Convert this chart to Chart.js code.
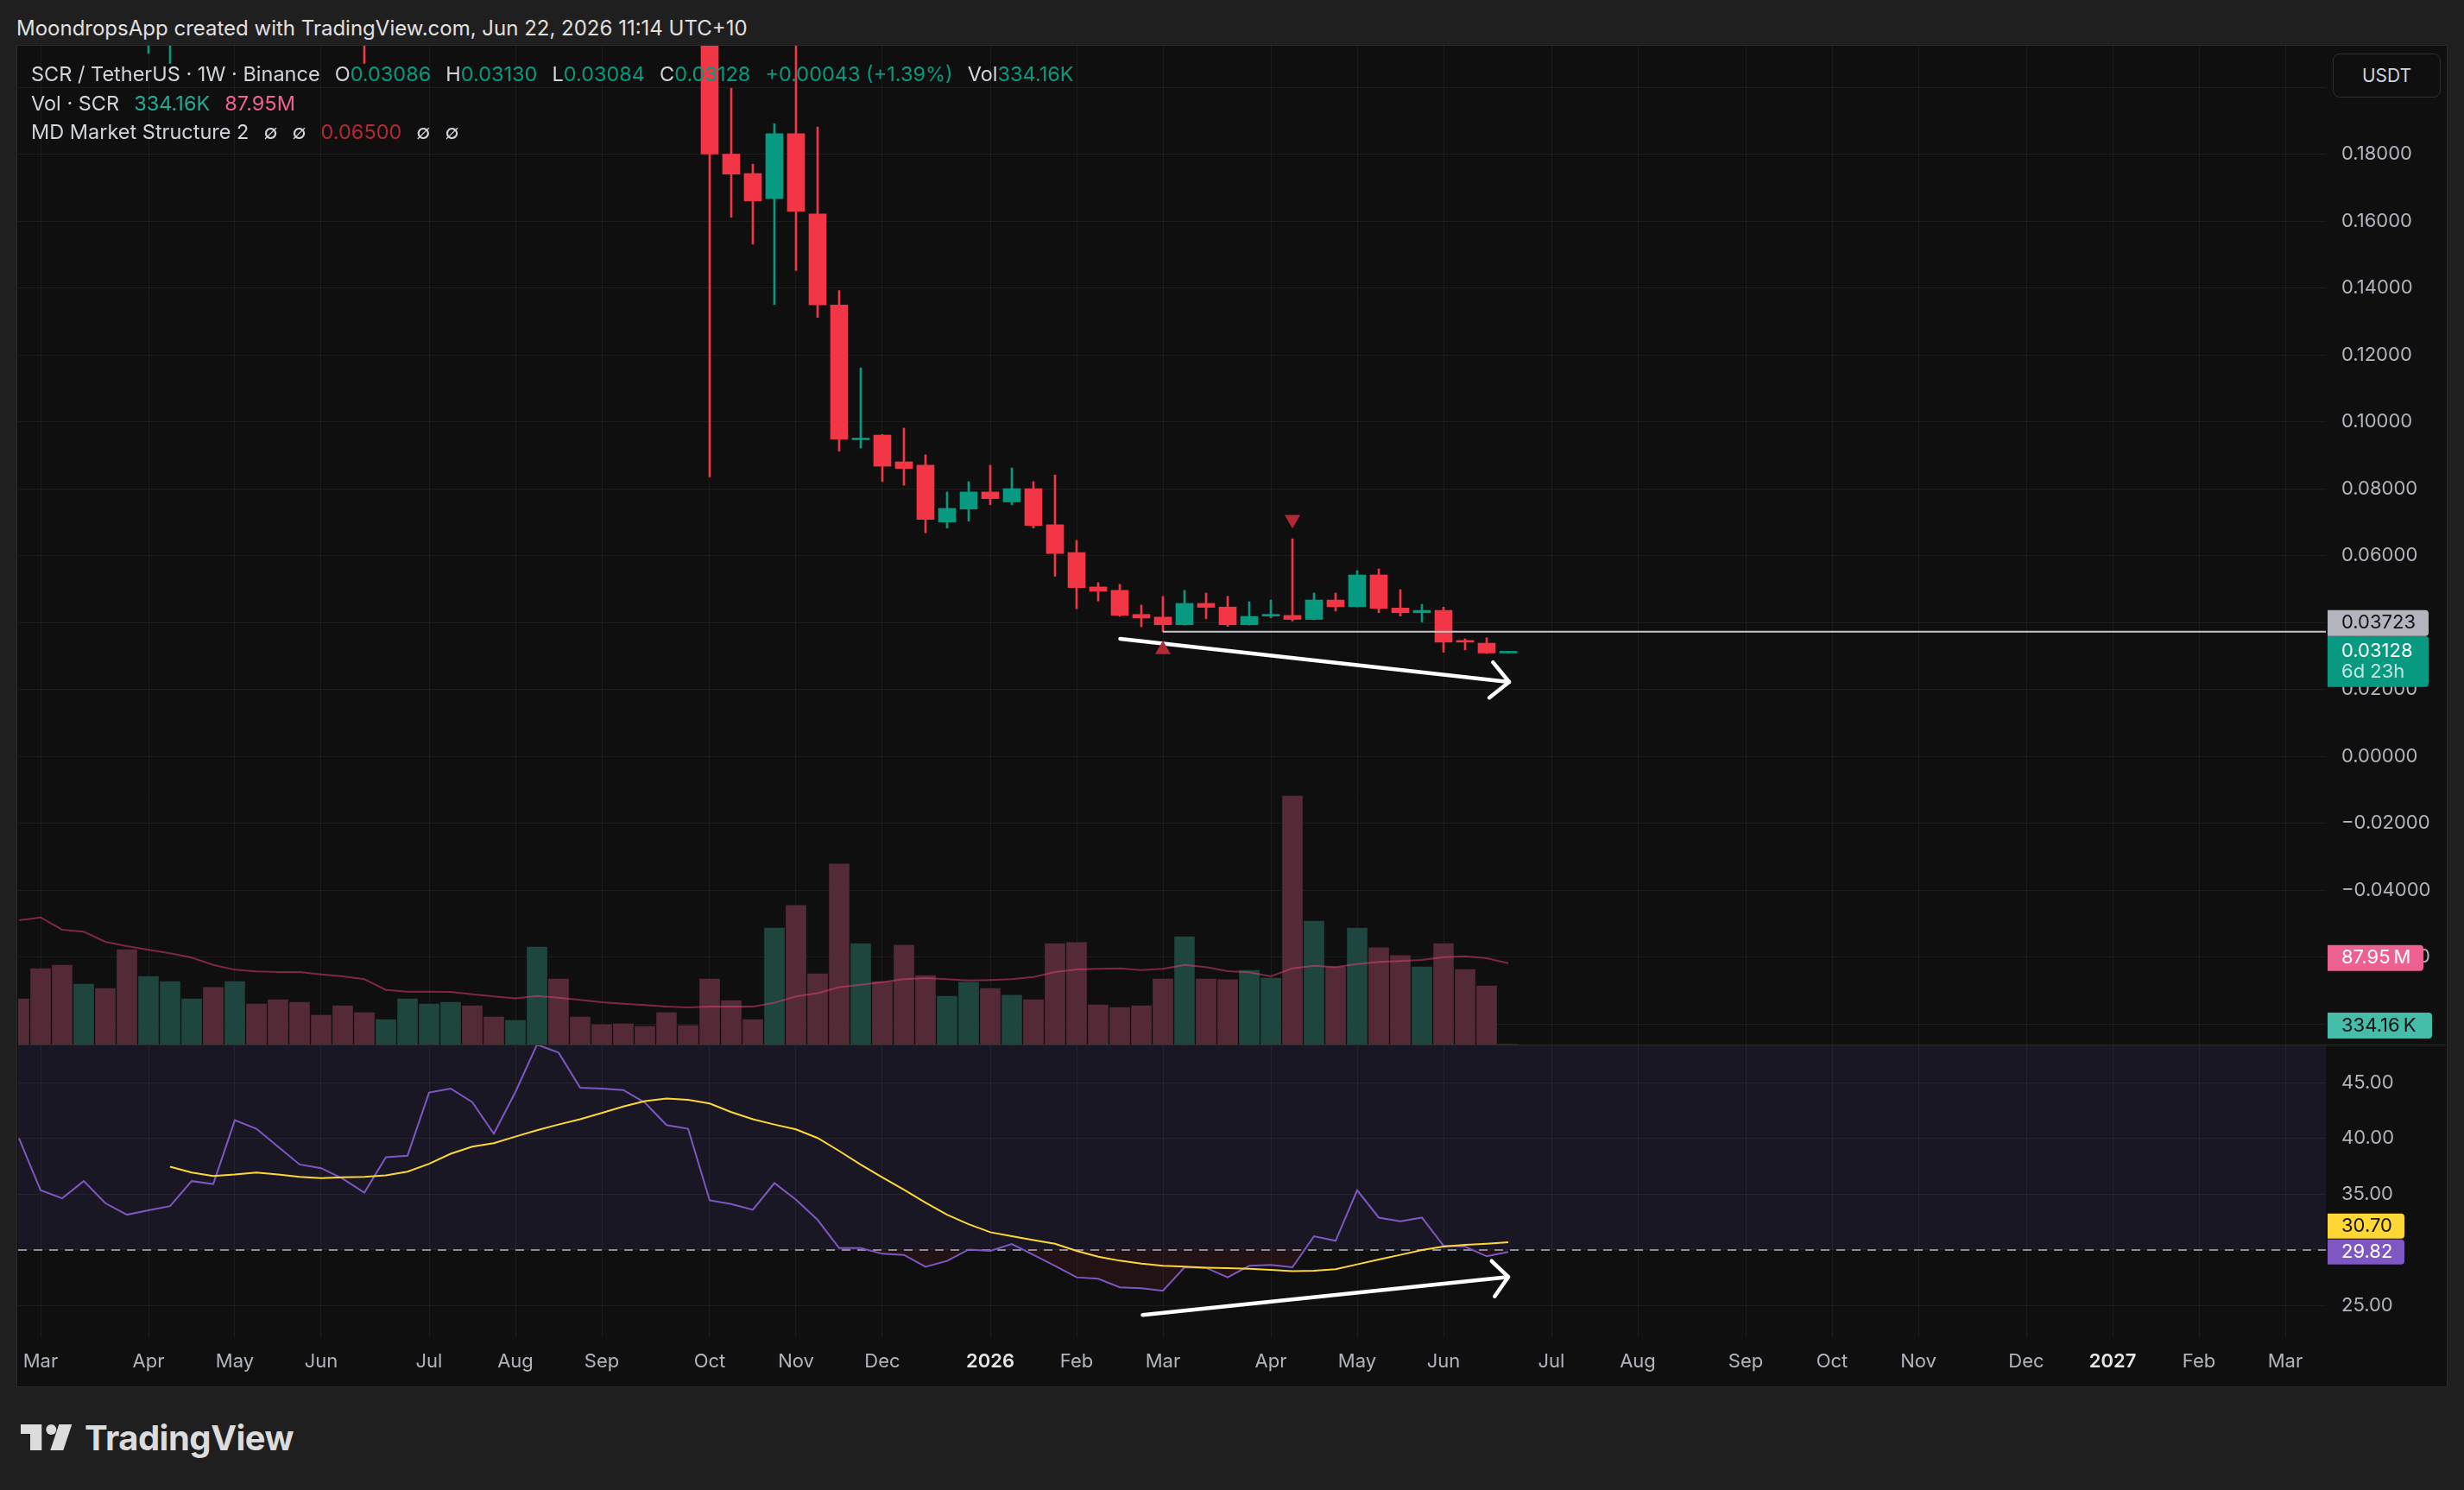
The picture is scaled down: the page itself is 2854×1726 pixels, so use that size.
<!DOCTYPE html>
<html lang="en">
<head>
<meta charset="UTF-8" />
<title>SCR / TetherUS 1W</title>
<script src="https://cdn.jsdelivr.net/npm/chart.js"></script>
<style>
  body { margin: 0; width: 2854px; height: 1726px; background: #1f1f1f; overflow: hidden;
         font-family: Inter, "Noto Sans", sans-serif; position: relative; }
  #header { position: absolute; left: 19px; top: 18px; font-size: 24px; line-height: 30px; color: #e0e0e0; }
  #frame { position: absolute; left: 19px; top: 52px; width: 2814px; height: 1553px; background: #0f0f0f;
           border: 1px solid #2b2b2b; }
  #mainPane { position: absolute; left: 21px; top: 53px; width: 2812px; height: 1157px; }
  #sep { position: absolute; left: 21px; top: 1210px; width: 2812px; height: 1px; background: #2b2b2b; }
  #rsiPane { position: absolute; left: 21px; top: 1211px; width: 2812px; height: 394px; }
  .row { position: absolute; left: 36px; font-size: 23.5px; line-height: 30px; color: #d1d4dc; white-space: nowrap; }
  .row span.g { margin-left: 17px; }
  .up { color: #089981; }
  #usdt { position: absolute; left: 2702px; top: 62px; width: 123px; height: 49px; border: 1px solid #2e2e2e;
          border-radius: 8px; background: #0f0f0f; color: #d1d4dc; font-size: 21px; line-height: 49px; text-align: center; }
  #logo { position: absolute; left: 24px; top: 1650px; height: 40px; color: #dcdcdc; }
  #logo span { position: absolute; left: 74px; top: -9px; font-size: 40px; font-weight: 700; letter-spacing: -0.5px; }
</style>
</head>
<body>
  <div id="header">MoondropsApp created with TradingView.com, Jun 22, 2026 11:14 UTC+10</div>
  <div id="frame"></div>
  <div id="mainPane"><canvas id="priceChart"></canvas></div>
  <div id="sep"></div>
  <div id="rsiPane"><canvas id="rsiChart"></canvas></div>

  <div class="row" style="top:71px">SCR / TetherUS · 1W · Binance<span class="g">O<span class="up">0.03086</span></span><span class="g">H<span class="up">0.03130</span></span><span class="g">L<span class="up">0.03084</span></span><span class="g">C<span class="up">0.03128</span></span><span class="g up">+0.00043 (+1.39%)</span><span class="g">Vol<span class="up">334.16K</span></span></div>
  <div class="row" style="top:105px">Vol · SCR<span class="g" style="color:#22ab94">334.16K</span><span class="g" style="color:#f06292">87.95M</span></div>
  <div class="row" style="top:138px">MD Market Structure 2<span class="g">∅</span><span class="g">∅</span><span class="g" style="color:#b22833">0.06500</span><span class="g">∅</span><span class="g">∅</span></div>
  <div id="usdt">USDT</div>

  <div id="logo">
    <svg width="60" height="30" viewBox="0 0 60 30">
      <path d="M0 0H24.3V30H11V11H0Z" fill="#dcdcdc" />
      <circle cx="35.3" cy="6" r="6" fill="#dcdcdc" />
      <path d="M44.3 0H59.3L49.3 30H34.3Z" fill="#dcdcdc" />
    </svg>
    <span>TradingView</span>
  </div>

<script>
  // weekly bars, week 0 = week of 2025-03-03
  const weekNo = [-1, 0, 1, 2, 3, 4, 5, 6, 7, 8,
    9, 10, 11, 12, 13, 14, 15, 16, 17, 18,
    19, 20, 21, 22, 23, 24, 25, 26, 27, 28,
    29, 30, 31, 32, 33, 34, 35, 36, 37, 38,
    39, 40, 41, 42, 43, 44, 45, 46, 47, 48,
    49, 50, 51, 52, 53, 54, 55, 56, 57, 58,
    59, 60, 61, 62, 63, 64, 65, 66, 67, 68];

  const openP = [0.356, 0.330, 0.290, 0.282, 0.300, 0.275, 0.262, 0.266, 0.270, 0.292,
    0.288, 0.345, 0.335, 0.318, 0.300, 0.296, 0.287, 0.274, 0.300, 0.301,
    0.355, 0.360, 0.345, 0.316, 0.352, 0.400, 0.392, 0.355, 0.354, 0.351,
    0.339, 0.318, 0.314, 0.1800, 0.1742, 0.1667, 0.1861, 0.1621, 0.1349, 0.0946,
    0.0960, 0.0880, 0.0870, 0.0700, 0.0739, 0.0790, 0.0760, 0.0800, 0.0692, 0.0609,
    0.0506, 0.0496, 0.0424, 0.0416, 0.0393, 0.0457, 0.0446, 0.0393, 0.0419, 0.0421,
    0.0409, 0.0467, 0.0447, 0.0542, 0.0443, 0.0429, 0.0436, 0.0345, 0.0338, 0.03086];
  const highP = [0.372, 0.345, 0.318, 0.322, 0.309, 0.286, 0.281, 0.284, 0.305, 0.311,
    0.372, 0.368, 0.352, 0.329, 0.316, 0.305, 0.298, 0.309, 0.318, 0.372,
    0.381, 0.376, 0.352, 0.361, 0.432, 0.424, 0.398, 0.366, 0.362, 0.358,
    0.344, 0.331, 0.322, 0.1997, 0.1770, 0.1891, 0.2350, 0.1881, 0.1392, 0.1161,
    0.0962, 0.0981, 0.0901, 0.0790, 0.0821, 0.0870, 0.0862, 0.0821, 0.0841, 0.0645,
    0.0519, 0.0514, 0.0452, 0.0478, 0.0496, 0.0488, 0.0478, 0.0462, 0.0467, 0.0650,
    0.0488, 0.0488, 0.0555, 0.0560, 0.0498, 0.0454, 0.0446, 0.0351, 0.0354, 0.03130];
  const lowP = [0.318, 0.281, 0.262, 0.270, 0.258, 0.238, 0.2101, 0.2071, 0.255, 0.270,
    0.280, 0.318, 0.302, 0.286, 0.281, 0.266, 0.2071, 0.262, 0.284, 0.296,
    0.331, 0.331, 0.301, 0.306, 0.341, 0.371, 0.343, 0.341, 0.338, 0.327,
    0.309, 0.301, 0.0835, 0.1611, 0.1531, 0.1350, 0.1452, 0.1312, 0.0912, 0.0921,
    0.0821, 0.0810, 0.0668, 0.0682, 0.0703, 0.0752, 0.0752, 0.0682, 0.0538, 0.0441,
    0.0464, 0.0418, 0.0387, 0.0372, 0.0392, 0.0411, 0.0388, 0.0392, 0.0414, 0.0404,
    0.0408, 0.0434, 0.0446, 0.0429, 0.0419, 0.0401, 0.0311, 0.0318, 0.0307, 0.03084];
  const closeP = [0.330, 0.290, 0.282, 0.300, 0.275, 0.262, 0.266, 0.270, 0.292, 0.288,
    0.345, 0.335, 0.318, 0.300, 0.296, 0.287, 0.274, 0.300, 0.301, 0.355,
    0.360, 0.345, 0.316, 0.352, 0.400, 0.392, 0.355, 0.354, 0.351, 0.339,
    0.318, 0.314, 0.1800, 0.1740, 0.1660, 0.1861, 0.1629, 0.1349, 0.0948, 0.0951,
    0.0867, 0.0860, 0.0708, 0.0741, 0.0790, 0.0770, 0.0800, 0.0690, 0.0606, 0.0504,
    0.0493, 0.0421, 0.0413, 0.0393, 0.0457, 0.0445, 0.0393, 0.0418, 0.0423, 0.0409,
    0.0467, 0.0447, 0.0542, 0.0442, 0.0429, 0.0436, 0.0341, 0.0341, 0.03086, 0.03128];

  // volume in millions SCR
  const volumeM = [49.4, 82.1, 85.8, 65.3, 60.6, 102.6, 73.7, 68.1, 49.4, 61.6,
    68.1, 43.8, 48.5, 45.7, 31.7, 42.0, 34.5, 27.0, 49.4, 43.8,
    45.7, 42.0, 29.8, 26.1, 105.4, 70.9, 29.8, 21.5, 22.4, 19.6,
    34.5, 20.5, 70.9, 47.6, 27.0, 125.9, 150.2, 76.5, 195.0, 109.1,
    68.1, 107.3, 74.6, 52.2, 67.2, 60.6, 53.2, 48.5, 109.1, 110.1,
    42.9, 40.1, 42.0, 70.9, 116.6, 70.9, 70.0, 80.2, 71.8, 268.6,
    133.4, 83.9, 125.9, 104.5, 96.1, 83.9, 109.1, 81.1, 63.4, 0.334];
  const volumeMA = [134.3, 137.4, 124.1, 121.9, 111.0, 106.3, 102.3, 98.6, 93.9, 86.1,
    80.8, 79.0, 78.3, 78.3, 75.8, 73.7, 70.6, 59.0, 57.2, 57.2,
    56.9, 54.4, 51.9, 50.0, 52.5, 50.6, 48.2, 45.7, 44.1, 42.6,
    41.0, 40.1, 41.0, 41.0, 41.0, 45.1, 52.0, 55.5, 62.0, 64.5,
    67.4, 70.6, 71.8, 70.6, 69.3, 69.7, 70.6, 73.0, 78.3, 81.1,
    81.8, 82.4, 80.5, 81.8, 86.1, 83.7, 79.3, 78.0, 73.7, 82.4,
    85.2, 83.7, 87.0, 89.2, 90.2, 91.4, 94.5, 95.4, 93.3, 87.95];

  const rsi = [40.0, 35.35, 34.63, 36.17, 34.19, 33.16, 33.55, 33.93, 36.17, 35.91,
    41.63, 40.86, 39.26, 37.66, 37.33, 36.38, 35.14, 38.31, 38.44, 44.10,
    44.46, 43.25, 40.42, 44.15, 48.4, 47.68, 44.54, 44.46, 44.33, 43.2,
    41.19, 40.86, 34.45, 34.11, 33.6, 35.99, 34.5, 32.7, 30.17, 30.17,
    29.66, 29.56, 28.5, 29.02, 30.04, 29.92, 30.53, 29.56, 28.58, 27.55,
    27.42, 26.65, 26.57, 26.34, 28.45, 28.4, 27.55, 28.58, 28.66, 28.45,
    31.23, 30.82, 35.35, 32.9, 32.57, 32.9, 30.38, 30.3, 29.43, 29.82];
  const rsiMA = [null, null, null, null, null, null, null, 37.46, 36.94, 36.63,
    36.76, 36.94, 36.76, 36.56, 36.43, 36.51, 36.56, 36.69, 37.02, 37.72,
    38.62, 39.26, 39.57, 40.16, 40.73, 41.24, 41.71, 42.27, 42.86, 43.33,
    43.56, 43.46, 43.12, 42.35, 41.71, 41.24, 40.8, 40.03, 38.87, 37.64,
    36.51, 35.4, 34.24, 33.16, 32.31, 31.59, 31.23, 30.89, 30.56, 29.92,
    29.4, 29.04, 28.78, 28.58, 28.5, 28.42, 28.37, 28.32, 28.22, 28.11,
    28.14, 28.27, 28.71, 29.14, 29.56, 30.0, 30.3, 30.46, 30.56, 30.70];

  // market structure marks and drawn arrows (week, value)
  const levelLine = { fromWeek: 52, price: 0.03723 };
  const buySignal = [{ x: 52, y: 0.0319 }];
  const sellSignal = [{ x: 58, y: 0.0708 }];
  const priceArrow = [{ x: 50.02, y: 0.0351 }, { x: 68.04, y: 0.0222 }];
  const priceArrowHead = [{ x: 67.29, y: 0.0281 }, { x: 68.04, y: 0.0222 }, { x: 67.12, y: 0.0175 }];
  const rsiArrow = [{ x: 51.06, y: 24.17 }, { x: 68.0, y: 27.58 }];
  const rsiArrowHead = [{ x: 67.23, y: 29.01 }, { x: 68.0, y: 27.58 }, { x: 67.37, y: 25.84 }];

  // axis ticks
  const monthTicks = [0, 5, 9, 13, 18, 22, 26, 31, 35, 39, 44, 48, 52, 57, 61, 65, 70, 74, 79, 83, 87, 92, 96, 100, 104];
  const monthLabels = ['Mar', 'Apr', 'May', 'Jun', 'Jul', 'Aug', 'Sep', 'Oct', 'Nov', 'Dec', '2026', 'Feb',
    'Mar', 'Apr', 'May', 'Jun', 'Jul', 'Aug', 'Sep', 'Oct', 'Nov', 'Dec', '2027', 'Feb', 'Mar'];
  const priceTicks = [-0.08, -0.06, -0.04, -0.02, 0, 0.02, 0.04, 0.06, 0.08, 0.10, 0.12, 0.14, 0.16, 0.18, 0.20];
  const rsiTicks = [25, 30, 35, 40, 45];

  // view window
  const X_MIN = -1.04, X_MAX = 105.88;
  const PRICE_MIN = -0.08619, PRICE_MAX = 0.21239;
  const VOL_MAX = 1079;
  const RSI_MIN = 22.185, RSI_MAX = 48.326;

  const UP = '#089981', DOWN = '#f23645';
  const GRID = 'rgba(242,242,242,0.06)';
  const AXIS_TXT = '#b2b5be';
  const AXIS_W = 139;
  const LABEL_SIZE = 22;
  const LABEL_FONT = LABEL_SIZE + 'px Inter, "Noto Sans", sans-serif';

  Chart.defaults.font.family = 'Inter, "Noto Sans", sans-serif';
  Chart.defaults.font.size = 22;

  const isUp = weekNo.map((w, i) => closeP[i] >= openP[i]);
  const candleColors = isUp.map(u => u ? UP : DOWN);
  const volColors = isUp.map(u => u ? '#1f463e' : '#542a37');

  const bodyData = weekNo.map((w, i) => ({ x: w, y: [openP[i], closeP[i]] }));
  const wickData = weekNo.map((w, i) => ({ x: w, y: [lowP[i], highP[i]] }));
  const volData = weekNo.map((w, i) => ({ x: w, y: volumeM[i] }));
  const volMAData = weekNo.map((w, i) => ({ x: w, y: volumeMA[i] }));
  const rsiData = weekNo.map((w, i) => ({ x: w, y: rsi[i] }));
  const rsiMAData = weekNo.map((w, i) => ({ x: w, y: rsiMA[i] })).filter(p => p.y !== null);

  function fmtPrice(v) {
    const s = Math.abs(v).toFixed(5);
    return v < -1e-9 ? '\u2212' + s : s;
  }

  // no auto padding: plot must fill the pane edge to edge
  function noPad(s) {
    s.paddingTop = 0; s.paddingBottom = 0; s.paddingLeft = 0; s.paddingRight = 0;
  }

  function badge(ctx, x, yc, w, h, bg, lines) {
    ctx.save();
    ctx.fillStyle = bg;
    ctx.beginPath();
    if (ctx.roundRect) ctx.roundRect(x, yc - h / 2, w, h, [0, 4, 4, 0]);
    else ctx.rect(x, yc - h / 2, w, h);
    ctx.fill();
    ctx.textAlign = 'left';
    ctx.textBaseline = 'middle';
    ctx.font = LABEL_FONT;
    lines.forEach(l => {
      ctx.fillStyle = l.color;
      ctx.fillText(l.text, x + 16, l.y);
    });
    ctx.restore();
  }

  // price / volume badges on the right scale
  const priceBadges = {
    id: 'priceBadges',
    afterDraw(chart) {
      const { ctx, chartArea, scales } = chart;
      const x = chartArea.right + 2;
      const last = closeP[closeP.length - 1];
      const yLast = scales.y.getPixelForValue(last);
      const tealTop = yLast - 18;
      badge(ctx, x, tealTop + 29.5, 117, 59, UP, [
        { text: last.toFixed(5), color: '#ffffff', y: yLast },
        { text: '6d 23h', color: 'rgba(255,255,255,0.75)', y: yLast + 24 }
      ]);
      const yLevel = Math.min(scales.y.getPixelForValue(levelLine.price), tealTop - 15);
      badge(ctx, x, yLevel, 117, 30, '#b2b5be', [{ text: levelLine.price.toFixed(5), color: '#131313', y: yLevel }]);

      // label sits a little above the MA end point, as in the screenshot
      const yMA = scales.yVol.getPixelForValue(volumeMA[volumeMA.length - 1]) - 6;
      badge(ctx, x, yMA, 111, 30, '#ec6092', [{ text: '87.95\u2009M', color: '#ffffff', y: yMA }]);
      const yVol = Math.min(scales.yVol.getPixelForValue(volumeM[volumeM.length - 1]), chartArea.bottom - 22);
      badge(ctx, x, yVol, 121, 30, '#45bda8', [{ text: '334.16\u2009K', color: '#131313', y: yVol }]);
    }
  };

  const xScale = {
    type: 'linear', min: X_MIN, max: X_MAX, offset: false,
    grid: { color: GRID, drawTicks: false, offset: false },
    border: { display: false },
    afterBuildTicks: s => { s.ticks = monthTicks.map(v => ({ value: v })); }
  };

  new Chart(document.getElementById('priceChart'), {
    type: 'bar',
    data: {
      datasets: [
        { type: 'line', label: 'buy', data: buySignal, showLine: false, pointStyle: 'triangle', pointRadius: 10.5,
          pointBackgroundColor: '#b22833', pointBorderWidth: 0, yAxisID: 'y', order: 0 },
        { type: 'line', label: 'sell', data: sellSignal, showLine: false, pointStyle: 'triangle', pointRotation: 180,
          pointRadius: 10.5, pointBackgroundColor: '#b22833', pointBorderWidth: 0, yAxisID: 'y', order: 0 },
        { type: 'line', label: 'arrow', data: priceArrow, borderColor: '#ffffff', borderWidth: 4.5,
          borderCapStyle: 'round', pointRadius: 0, yAxisID: 'y', order: 0 },
        { type: 'line', label: 'arrow head', data: priceArrowHead, borderColor: '#ffffff', borderWidth: 4.5,
          borderCapStyle: 'round', borderJoinStyle: 'round', pointRadius: 0, yAxisID: 'y', order: 0 },
        { type: 'line', label: 'level', data: [{ x: levelLine.fromWeek, y: levelLine.price }, { x: X_MAX, y: levelLine.price }],
          borderColor: '#c8c9ce', borderWidth: 2, pointRadius: 0, yAxisID: 'y', order: 1 },
        { label: 'bodies', data: bodyData, backgroundColor: candleColors, barThickness: 20, minBarLength: 2,
          grouped: false, yAxisID: 'y', clip: 0, order: 2 },
        { label: 'wicks', data: wickData, backgroundColor: candleColors, barThickness: 2,
          grouped: false, yAxisID: 'y', clip: 0, order: 3 },
        { type: 'line', label: 'Vol MA', data: volMAData, borderColor: 'rgba(236,64,122,0.5)', borderWidth: 2,
          pointRadius: 0, yAxisID: 'yVol', order: 8 },
        { label: 'Vol', data: volData, backgroundColor: volColors, barThickness: 23,
          grouped: false, yAxisID: 'yVol', clip: 0, order: 9 }
      ]
    },
    options: {
      responsive: true, maintainAspectRatio: false, animation: false, devicePixelRatio: 1,
      layout: { padding: 0, autoPadding: false },
      plugins: { legend: { display: false }, tooltip: { enabled: false } },
      scales: {
        x: Object.assign({}, xScale, { ticks: { display: false }, afterFit: s => { s.height = 0; noPad(s); } }),
        y: {
          position: 'right', min: PRICE_MIN, max: PRICE_MAX,
          grid: { color: GRID, drawTicks: false }, border: { display: false },
          ticks: { padding: 18, color: AXIS_TXT, font: { size: LABEL_SIZE }, callback: v => fmtPrice(v) },
          afterBuildTicks: s => { s.ticks = priceTicks.map(v => ({ value: v })); },
          afterFit: s => { s.width = AXIS_W; noPad(s); }
        },
        yVol: { display: false, min: 0, max: VOL_MAX, afterFit: noPad }
      }
    },
    plugins: [priceBadges]
  });

  // RSI pane
  const rsiBand = {
    id: 'rsiBand',
    beforeDraw(chart) {
      const { ctx, chartArea: a, scales: { y } } = chart;
      const top = Math.max(a.top, y.getPixelForValue(70));
      const bottom = y.getPixelForValue(30);
      ctx.save();
      ctx.fillStyle = '#1a1724';
      ctx.fillRect(a.left, top, a.right - a.left, bottom - top);
      ctx.restore();
    },
    afterDraw(chart) {
      const { ctx, chartArea, scales: { y } } = chart;
      const x = chartArea.right + 2;
      const lastRsi = rsi[rsi.length - 1];
      const lastMA = rsiMA[rsiMA.length - 1];
      const yR = y.getPixelForValue(lastRsi);
      const yM = Math.min(y.getPixelForValue(lastMA), yR - 30);
      badge(ctx, x, yR, 89, 29, '#7e57c2', [{ text: lastRsi.toFixed(2), color: '#ffffff', y: yR }]);
      badge(ctx, x, yM, 89, 29, '#fdd835', [{ text: lastMA.toFixed(2), color: '#131313', y: yM }]);
    }
  };

  new Chart(document.getElementById('rsiChart'), {
    type: 'line',
    data: {
      datasets: [
        { label: 'arrow', data: rsiArrow, borderColor: '#ffffff', borderWidth: 4.5, borderCapStyle: 'round', pointRadius: 0 },
        { label: 'arrow head', data: rsiArrowHead, borderColor: '#ffffff', borderWidth: 4.5,
          borderCapStyle: 'round', borderJoinStyle: 'round', pointRadius: 0 },
        { label: 'RSI-based MA', data: rsiMAData, borderColor: '#fdd835', borderWidth: 2, pointRadius: 0 },
        { label: 'RSI', data: rsiData, borderColor: '#7e57c2', borderWidth: 2, pointRadius: 0,
          fill: { target: { value: 30 }, above: 'rgba(0,0,0,0)', below: 'rgba(242,54,69,0.09)' } },
        { label: 'lower band', data: [{ x: X_MIN, y: 30 }, { x: X_MAX, y: 30 }], borderColor: '#8a8c96',
          borderWidth: 2, borderDash: [10, 8], pointRadius: 0 }
      ]
    },
    options: {
      responsive: true, maintainAspectRatio: false, animation: false, devicePixelRatio: 1,
      layout: { padding: 0, autoPadding: false },
      plugins: { legend: { display: false }, tooltip: { enabled: false } },
      scales: {
        x: Object.assign({}, xScale, {
          ticks: {
            autoSkip: false, maxRotation: 0, padding: 15,
            callback: (v, i) => monthLabels[i],
            color: c => /^\d{4}$/.test(monthLabels[c.index]) ? '#e6e6e6' : AXIS_TXT,
            font: c => ({ size: 22, weight: /^\d{4}$/.test(monthLabels[c.index]) ? '600' : '400' })
          },
          afterFit: s => { s.height = 56; noPad(s); }
        }),
        y: {
          position: 'right', min: RSI_MIN, max: RSI_MAX,
          grid: { color: GRID, drawTicks: false }, border: { display: false },
          ticks: { padding: 18, color: AXIS_TXT, font: { size: LABEL_SIZE }, callback: v => v.toFixed(2) },
          afterBuildTicks: s => { s.ticks = rsiTicks.map(v => ({ value: v })); },
          afterFit: s => { s.width = AXIS_W; noPad(s); }
        }
      }
    },
    plugins: [rsiBand]
  });
</script>
</body>
</html>
